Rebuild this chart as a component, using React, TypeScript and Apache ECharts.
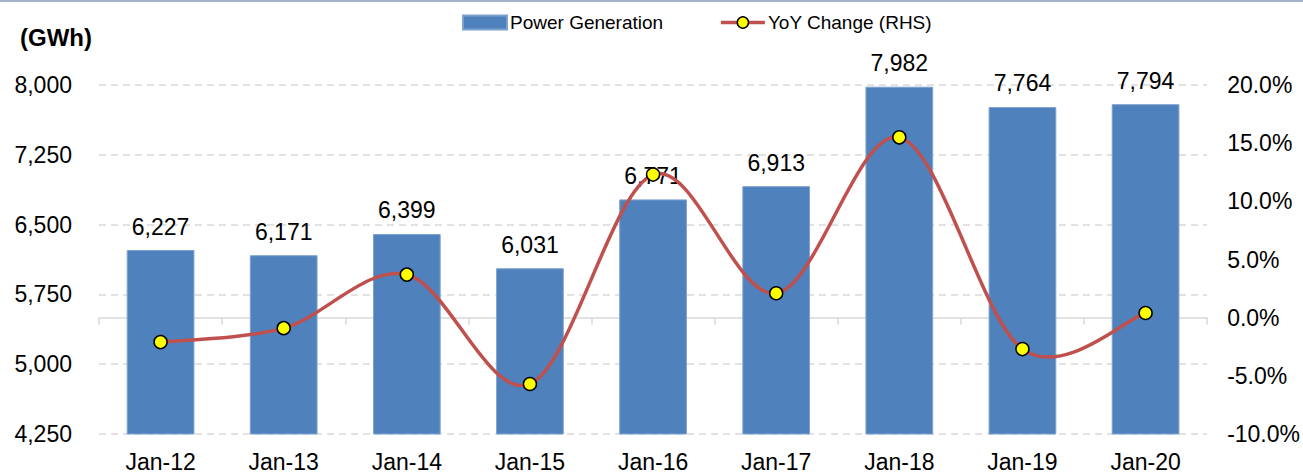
import React, { useEffect, useRef } from "react";
import * as echarts from "echarts";

const categories = ["Jan-12", "Jan-13", "Jan-14", "Jan-15", "Jan-16", "Jan-17", "Jan-18", "Jan-19", "Jan-20"];
const generation = [6227, 6171, 6399, 6031, 6771, 6913, 7982, 7764, 7794];
const yoyChange = [-2.1, -0.9, 3.7, -5.7, 12.3, 2.1, 15.5, -2.7, 0.4];

const FONT = "'Liberation Sans', Arial, sans-serif";
const LINE_COLOR = "#C0504D";

export default function App() {
  const ref = useRef<HTMLDivElement>(null);
  useEffect(() => {
    if (!ref.current) return;
    const chart = echarts.init(ref.current, undefined, { renderer: "svg" });
    const n = yoyChange.length;
    chart.setOption({
      animation: false,
      textStyle: { fontFamily: FONT },
      grid: { left: 99, right: 95, top: 85, bottom: 42, containLabel: false },
      legend: {
        top: 8,
        left: 457,
        itemGap: 56,
        itemWidth: 44,
        itemHeight: 14,
        textStyle: { fontSize: 19, color: "#000", fontFamily: FONT, padding: [0, 0, 0, -2] },
        data: [
          { name: "Power Generation", icon: "rect" },
          {
            name: "YoY Change (RHS)",
            lineStyle: { color: LINE_COLOR, width: 3.5, opacity: 1 },
            itemStyle: { color: "#FFFF00", borderColor: "#000", borderWidth: 1.5 },
          },
        ],
      },
      graphic: [
        { type: "rect", left: 0, top: 0, shape: { width: 1303, height: 2 }, style: { fill: "#A6B4CC" } },
        {
          type: "text",
          left: 20,
          top: 25,
          style: { text: "(GWh)", font: `bold 24px ${FONT}`, fill: "#000" },
        },
      ],
      xAxis: {
        type: "category",
        data: categories,
        axisLine: { lineStyle: { color: "#D9D9D9", width: 1.5 } },
        axisTick: { show: true, length: 7, lineStyle: { color: "#D9D9D9", width: 1.5 } },
        axisLabel: { fontSize: 23, color: "#000", margin: 16, fontFamily: FONT },
      },
      yAxis: [
        {
          type: "value",
          min: 4250,
          max: 8000,
          interval: 750,
          axisLine: { show: false },
          axisTick: { show: false },
          splitLine: { lineStyle: { color: "#D9D9D9", type: [7, 5], width: 1.5 } },
          axisLabel: {
            fontSize: 23,
            color: "#000",
            margin: 27,
            fontFamily: FONT,
            formatter: (v: number) => v.toLocaleString("en-US"),
          },
        },
        {
          type: "value",
          min: -10,
          max: 20,
          interval: 5,
          position: "right",
          axisLine: { show: false },
          axisTick: { show: false },
          splitLine: { show: false },
          axisLabel: {
            fontSize: 23,
            color: "#000",
            margin: 20,
            fontFamily: FONT,
            formatter: (v: number) => v.toFixed(1) + "%",
          },
        },
      ],
      series: [
        {
          name: "Power Generation",
          type: "bar",
          data: generation,
          barWidth: "55%",
          z: 2,
          itemStyle: { color: "#4F81BD", borderColor: "#7EA2D0", borderWidth: 1 },
          label: {
            show: true,
            position: "top",
            distance: 12,
            fontSize: 23,
            color: "#000",
            fontFamily: FONT,
            formatter: (p: any) => Number(p.value).toLocaleString("en-US"),
          },
        },
        {
          name: "YoY curve",
          type: "custom",
          yAxisIndex: 1,
          z: 4,
          silent: true,
          data: yoyChange.map((v, i) => [i, v]),
          renderItem: (params: any, api: any) => {
            const i = params.dataIndex;
            if (i >= n - 1) return null;
            const pt = (k: number) => {
              const kk = Math.max(0, Math.min(n - 1, k));
              return api.coord([kk, yoyChange[kk]]);
            };
            const p0 = pt(i - 1);
            const p1 = pt(i);
            const p2 = pt(i + 1);
            const p3 = pt(i + 2);
            return {
              type: "bezierCurve",
              shape: {
                x1: p1[0],
                y1: p1[1],
                cpx1: p1[0] + (p2[0] - p0[0]) / 6,
                cpy1: p1[1] + (p2[1] - p0[1]) / 6,
                cpx2: p2[0] - (p3[0] - p1[0]) / 6,
                cpy2: p2[1] - (p3[1] - p1[1]) / 6,
                x2: p2[0],
                y2: p2[1],
              },
              style: { stroke: LINE_COLOR, lineWidth: 3.5, fill: "none" },
            };
          },
        },
        {
          name: "YoY Change (RHS)",
          type: "line",
          yAxisIndex: 1,
          data: yoyChange,
          z: 5,
          symbol: "circle",
          symbolSize: 13,
          lineStyle: { color: LINE_COLOR, width: 0, opacity: 0 },
          itemStyle: { color: "#FFFF00", borderColor: "#000", borderWidth: 1.5 },
        },
      ],
    });
    return () => chart.dispose();
  }, []);
  return (
    <div
      ref={ref}
      style={{ position: "fixed", left: 0, top: 0, width: 1303, height: 476, background: "#fff" }}
    />
  );
}
